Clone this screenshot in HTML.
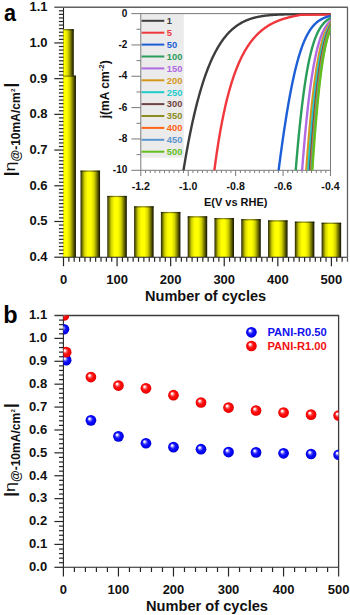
<!DOCTYPE html>
<html><head><meta charset="utf-8"><style>
html,body{margin:0;padding:0;background:#fff;width:350px;height:615px;overflow:hidden}
svg{display:block}
text{font-family:"Liberation Sans", sans-serif;font-weight:bold;fill:#111}
.t12{font-size:13px}
.t14{font-size:14px}
.t10{font-size:10px}
.t105{font-size:10.6px}
.t11{font-size:11px}
.t115{font-size:12px}
.t9{font-size:9.3px}
.t95{font-size:11px}
.lab{font-size:23.5px;fill:#000}
.yl{fill:#111}
</style></head><body>
<svg width="350" height="615" viewBox="0 0 350 615">
<defs>
<linearGradient id="bar" x1="0" x2="1" y1="0" y2="0">
<stop offset="0" stop-color="#1a1a00"/>
<stop offset="0.06" stop-color="#5c5c00"/>
<stop offset="0.2" stop-color="#d2d200"/>
<stop offset="0.36" stop-color="#ffff00"/>
<stop offset="0.54" stop-color="#ffff00"/>
<stop offset="0.7" stop-color="#d4d400"/>
<stop offset="0.84" stop-color="#7a7a00"/>
<stop offset="0.95" stop-color="#2e2e00"/>
<stop offset="1" stop-color="#141400"/>
</linearGradient>
<linearGradient id="rim" x1="0" x2="1" y1="0" y2="0">
<stop offset="0" stop-color="#0a0a00"/>
<stop offset="0.15" stop-color="#4a4a00"/>
<stop offset="0.45" stop-color="#8c8c10"/>
<stop offset="0.75" stop-color="#4a4a00"/>
<stop offset="1" stop-color="#0a0a00"/>
</linearGradient>
<radialGradient id="sb" cx="0.5" cy="0.5" r="0.5" fx="0.34" fy="0.32">
<stop offset="0" stop-color="#ffffff"/>
<stop offset="0.14" stop-color="#f0f0ff"/>
<stop offset="0.34" stop-color="#6060ff"/>
<stop offset="0.54" stop-color="#1010ff"/>
<stop offset="0.88" stop-color="#0000ea"/>
<stop offset="1" stop-color="#0000c0"/>
</radialGradient>
<radialGradient id="sr" cx="0.5" cy="0.5" r="0.5" fx="0.34" fy="0.32">
<stop offset="0" stop-color="#ffffff"/>
<stop offset="0.14" stop-color="#fff0f0"/>
<stop offset="0.34" stop-color="#ff6060"/>
<stop offset="0.54" stop-color="#ff1010"/>
<stop offset="0.88" stop-color="#f40000"/>
<stop offset="1" stop-color="#d00000"/>
</radialGradient>
<clipPath id="ca"><rect x="63.2" y="7.229999999999961" width="283.97400000000005" height="249.97000000000003"/></clipPath>
<clipPath id="cb"><rect x="63.4" y="315.50999999999993" width="275.2" height="251.79000000000002"/></clipPath>
</defs>
<line x1="63.50" y1="7.23" x2="63.50" y2="257.20" stroke="#222" stroke-width="1.1"/>
<g clip-path="url(#ca)">
<rect x="54.29" y="29.37" width="19.5" height="227.83" fill="url(#bar)"/>
<rect x="54.29" y="29.07" width="19.5" height="1.3" fill="url(#rim)" opacity="0.85"/>
<rect x="56.43" y="75.79" width="19.5" height="181.41" fill="url(#bar)"/>
<rect x="56.43" y="75.49" width="19.5" height="1.3" fill="url(#rim)" opacity="0.85"/>
<rect x="80.54" y="170.78" width="19.5" height="86.42" fill="url(#bar)"/>
<rect x="80.54" y="170.48" width="19.5" height="1.3" fill="url(#rim)" opacity="0.85"/>
<rect x="107.33" y="196.14" width="19.5" height="61.06" fill="url(#bar)"/>
<rect x="107.33" y="195.84" width="19.5" height="1.3" fill="url(#rim)" opacity="0.85"/>
<rect x="134.12" y="206.49" width="19.5" height="50.71" fill="url(#bar)"/>
<rect x="134.12" y="206.19" width="19.5" height="1.3" fill="url(#rim)" opacity="0.85"/>
<rect x="160.91" y="212.21" width="19.5" height="44.99" fill="url(#bar)"/>
<rect x="160.91" y="211.91" width="19.5" height="1.3" fill="url(#rim)" opacity="0.85"/>
<rect x="187.70" y="216.49" width="19.5" height="40.71" fill="url(#bar)"/>
<rect x="187.70" y="216.19" width="19.5" height="1.3" fill="url(#rim)" opacity="0.85"/>
<rect x="214.49" y="218.28" width="19.5" height="38.92" fill="url(#bar)"/>
<rect x="214.49" y="217.98" width="19.5" height="1.3" fill="url(#rim)" opacity="0.85"/>
<rect x="241.28" y="219.35" width="19.5" height="37.85" fill="url(#bar)"/>
<rect x="241.28" y="219.05" width="19.5" height="1.3" fill="url(#rim)" opacity="0.85"/>
<rect x="268.07" y="220.56" width="19.5" height="36.64" fill="url(#bar)"/>
<rect x="268.07" y="220.26" width="19.5" height="1.3" fill="url(#rim)" opacity="0.85"/>
<rect x="294.86" y="221.85" width="19.5" height="35.35" fill="url(#bar)"/>
<rect x="294.86" y="221.55" width="19.5" height="1.3" fill="url(#rim)" opacity="0.85"/>
<rect x="321.65" y="222.92" width="19.5" height="34.28" fill="url(#bar)"/>
<rect x="321.65" y="222.62" width="19.5" height="1.3" fill="url(#rim)" opacity="0.85"/>
</g>
<line x1="63.50" y1="257.20" x2="347.47" y2="257.20" stroke="#222" stroke-width="1.1"/>
<line x1="54.30" y1="257.20" x2="63.50" y2="257.20" stroke="#262626" stroke-width="1.2"/>
<line x1="58.90" y1="253.63" x2="63.50" y2="253.63" stroke="#262626" stroke-width="1.2"/>
<line x1="58.90" y1="250.06" x2="63.50" y2="250.06" stroke="#262626" stroke-width="1.2"/>
<line x1="58.90" y1="246.49" x2="63.50" y2="246.49" stroke="#262626" stroke-width="1.2"/>
<line x1="58.90" y1="242.92" x2="63.50" y2="242.92" stroke="#262626" stroke-width="1.2"/>
<line x1="58.90" y1="239.34" x2="63.50" y2="239.34" stroke="#262626" stroke-width="1.2"/>
<line x1="58.90" y1="235.77" x2="63.50" y2="235.77" stroke="#262626" stroke-width="1.2"/>
<line x1="58.90" y1="232.20" x2="63.50" y2="232.20" stroke="#262626" stroke-width="1.2"/>
<line x1="58.90" y1="228.63" x2="63.50" y2="228.63" stroke="#262626" stroke-width="1.2"/>
<line x1="58.90" y1="225.06" x2="63.50" y2="225.06" stroke="#262626" stroke-width="1.2"/>
<line x1="54.30" y1="221.49" x2="63.50" y2="221.49" stroke="#262626" stroke-width="1.2"/>
<line x1="58.90" y1="217.92" x2="63.50" y2="217.92" stroke="#262626" stroke-width="1.2"/>
<line x1="58.90" y1="214.35" x2="63.50" y2="214.35" stroke="#262626" stroke-width="1.2"/>
<line x1="58.90" y1="210.78" x2="63.50" y2="210.78" stroke="#262626" stroke-width="1.2"/>
<line x1="58.90" y1="207.21" x2="63.50" y2="207.21" stroke="#262626" stroke-width="1.2"/>
<line x1="58.90" y1="203.63" x2="63.50" y2="203.63" stroke="#262626" stroke-width="1.2"/>
<line x1="58.90" y1="200.06" x2="63.50" y2="200.06" stroke="#262626" stroke-width="1.2"/>
<line x1="58.90" y1="196.49" x2="63.50" y2="196.49" stroke="#262626" stroke-width="1.2"/>
<line x1="58.90" y1="192.92" x2="63.50" y2="192.92" stroke="#262626" stroke-width="1.2"/>
<line x1="58.90" y1="189.35" x2="63.50" y2="189.35" stroke="#262626" stroke-width="1.2"/>
<line x1="54.30" y1="185.78" x2="63.50" y2="185.78" stroke="#262626" stroke-width="1.2"/>
<line x1="58.90" y1="182.21" x2="63.50" y2="182.21" stroke="#262626" stroke-width="1.2"/>
<line x1="58.90" y1="178.64" x2="63.50" y2="178.64" stroke="#262626" stroke-width="1.2"/>
<line x1="58.90" y1="175.07" x2="63.50" y2="175.07" stroke="#262626" stroke-width="1.2"/>
<line x1="58.90" y1="171.50" x2="63.50" y2="171.50" stroke="#262626" stroke-width="1.2"/>
<line x1="58.90" y1="167.92" x2="63.50" y2="167.92" stroke="#262626" stroke-width="1.2"/>
<line x1="58.90" y1="164.35" x2="63.50" y2="164.35" stroke="#262626" stroke-width="1.2"/>
<line x1="58.90" y1="160.78" x2="63.50" y2="160.78" stroke="#262626" stroke-width="1.2"/>
<line x1="58.90" y1="157.21" x2="63.50" y2="157.21" stroke="#262626" stroke-width="1.2"/>
<line x1="58.90" y1="153.64" x2="63.50" y2="153.64" stroke="#262626" stroke-width="1.2"/>
<line x1="54.30" y1="150.07" x2="63.50" y2="150.07" stroke="#262626" stroke-width="1.2"/>
<line x1="58.90" y1="146.50" x2="63.50" y2="146.50" stroke="#262626" stroke-width="1.2"/>
<line x1="58.90" y1="142.93" x2="63.50" y2="142.93" stroke="#262626" stroke-width="1.2"/>
<line x1="58.90" y1="139.36" x2="63.50" y2="139.36" stroke="#262626" stroke-width="1.2"/>
<line x1="58.90" y1="135.79" x2="63.50" y2="135.79" stroke="#262626" stroke-width="1.2"/>
<line x1="58.90" y1="132.21" x2="63.50" y2="132.21" stroke="#262626" stroke-width="1.2"/>
<line x1="58.90" y1="128.64" x2="63.50" y2="128.64" stroke="#262626" stroke-width="1.2"/>
<line x1="58.90" y1="125.07" x2="63.50" y2="125.07" stroke="#262626" stroke-width="1.2"/>
<line x1="58.90" y1="121.50" x2="63.50" y2="121.50" stroke="#262626" stroke-width="1.2"/>
<line x1="58.90" y1="117.93" x2="63.50" y2="117.93" stroke="#262626" stroke-width="1.2"/>
<line x1="54.30" y1="114.36" x2="63.50" y2="114.36" stroke="#262626" stroke-width="1.2"/>
<line x1="58.90" y1="110.79" x2="63.50" y2="110.79" stroke="#262626" stroke-width="1.2"/>
<line x1="58.90" y1="107.22" x2="63.50" y2="107.22" stroke="#262626" stroke-width="1.2"/>
<line x1="58.90" y1="103.65" x2="63.50" y2="103.65" stroke="#262626" stroke-width="1.2"/>
<line x1="58.90" y1="100.08" x2="63.50" y2="100.08" stroke="#262626" stroke-width="1.2"/>
<line x1="58.90" y1="96.50" x2="63.50" y2="96.50" stroke="#262626" stroke-width="1.2"/>
<line x1="58.90" y1="92.93" x2="63.50" y2="92.93" stroke="#262626" stroke-width="1.2"/>
<line x1="58.90" y1="89.36" x2="63.50" y2="89.36" stroke="#262626" stroke-width="1.2"/>
<line x1="58.90" y1="85.79" x2="63.50" y2="85.79" stroke="#262626" stroke-width="1.2"/>
<line x1="58.90" y1="82.22" x2="63.50" y2="82.22" stroke="#262626" stroke-width="1.2"/>
<line x1="54.30" y1="78.65" x2="63.50" y2="78.65" stroke="#262626" stroke-width="1.2"/>
<line x1="58.90" y1="75.08" x2="63.50" y2="75.08" stroke="#262626" stroke-width="1.2"/>
<line x1="58.90" y1="71.51" x2="63.50" y2="71.51" stroke="#262626" stroke-width="1.2"/>
<line x1="58.90" y1="67.94" x2="63.50" y2="67.94" stroke="#262626" stroke-width="1.2"/>
<line x1="58.90" y1="64.37" x2="63.50" y2="64.37" stroke="#262626" stroke-width="1.2"/>
<line x1="58.90" y1="60.79" x2="63.50" y2="60.79" stroke="#262626" stroke-width="1.2"/>
<line x1="58.90" y1="57.22" x2="63.50" y2="57.22" stroke="#262626" stroke-width="1.2"/>
<line x1="58.90" y1="53.65" x2="63.50" y2="53.65" stroke="#262626" stroke-width="1.2"/>
<line x1="58.90" y1="50.08" x2="63.50" y2="50.08" stroke="#262626" stroke-width="1.2"/>
<line x1="58.90" y1="46.51" x2="63.50" y2="46.51" stroke="#262626" stroke-width="1.2"/>
<line x1="54.30" y1="42.94" x2="63.50" y2="42.94" stroke="#262626" stroke-width="1.2"/>
<line x1="58.90" y1="39.37" x2="63.50" y2="39.37" stroke="#262626" stroke-width="1.2"/>
<line x1="58.90" y1="35.80" x2="63.50" y2="35.80" stroke="#262626" stroke-width="1.2"/>
<line x1="58.90" y1="32.23" x2="63.50" y2="32.23" stroke="#262626" stroke-width="1.2"/>
<line x1="58.90" y1="28.66" x2="63.50" y2="28.66" stroke="#262626" stroke-width="1.2"/>
<line x1="58.90" y1="25.08" x2="63.50" y2="25.08" stroke="#262626" stroke-width="1.2"/>
<line x1="58.90" y1="21.51" x2="63.50" y2="21.51" stroke="#262626" stroke-width="1.2"/>
<line x1="58.90" y1="17.94" x2="63.50" y2="17.94" stroke="#262626" stroke-width="1.2"/>
<line x1="58.90" y1="14.37" x2="63.50" y2="14.37" stroke="#262626" stroke-width="1.2"/>
<line x1="58.90" y1="10.80" x2="63.50" y2="10.80" stroke="#262626" stroke-width="1.2"/>
<line x1="63.50" y1="257.20" x2="63.50" y2="266.20" stroke="#262626" stroke-width="1.2"/>
<line x1="68.86" y1="257.20" x2="68.86" y2="261.80" stroke="#262626" stroke-width="1.2"/>
<line x1="74.22" y1="257.20" x2="74.22" y2="261.80" stroke="#262626" stroke-width="1.2"/>
<line x1="79.57" y1="257.20" x2="79.57" y2="261.80" stroke="#262626" stroke-width="1.2"/>
<line x1="84.93" y1="257.20" x2="84.93" y2="261.80" stroke="#262626" stroke-width="1.2"/>
<line x1="90.29" y1="257.20" x2="90.29" y2="261.80" stroke="#262626" stroke-width="1.2"/>
<line x1="95.65" y1="257.20" x2="95.65" y2="261.80" stroke="#262626" stroke-width="1.2"/>
<line x1="101.01" y1="257.20" x2="101.01" y2="261.80" stroke="#262626" stroke-width="1.2"/>
<line x1="106.36" y1="257.20" x2="106.36" y2="261.80" stroke="#262626" stroke-width="1.2"/>
<line x1="111.72" y1="257.20" x2="111.72" y2="261.80" stroke="#262626" stroke-width="1.2"/>
<line x1="117.08" y1="257.20" x2="117.08" y2="266.20" stroke="#262626" stroke-width="1.2"/>
<line x1="122.44" y1="257.20" x2="122.44" y2="261.80" stroke="#262626" stroke-width="1.2"/>
<line x1="127.80" y1="257.20" x2="127.80" y2="261.80" stroke="#262626" stroke-width="1.2"/>
<line x1="133.15" y1="257.20" x2="133.15" y2="261.80" stroke="#262626" stroke-width="1.2"/>
<line x1="138.51" y1="257.20" x2="138.51" y2="261.80" stroke="#262626" stroke-width="1.2"/>
<line x1="143.87" y1="257.20" x2="143.87" y2="261.80" stroke="#262626" stroke-width="1.2"/>
<line x1="149.23" y1="257.20" x2="149.23" y2="261.80" stroke="#262626" stroke-width="1.2"/>
<line x1="154.59" y1="257.20" x2="154.59" y2="261.80" stroke="#262626" stroke-width="1.2"/>
<line x1="159.94" y1="257.20" x2="159.94" y2="261.80" stroke="#262626" stroke-width="1.2"/>
<line x1="165.30" y1="257.20" x2="165.30" y2="261.80" stroke="#262626" stroke-width="1.2"/>
<line x1="170.66" y1="257.20" x2="170.66" y2="266.20" stroke="#262626" stroke-width="1.2"/>
<line x1="176.02" y1="257.20" x2="176.02" y2="261.80" stroke="#262626" stroke-width="1.2"/>
<line x1="181.38" y1="257.20" x2="181.38" y2="261.80" stroke="#262626" stroke-width="1.2"/>
<line x1="186.73" y1="257.20" x2="186.73" y2="261.80" stroke="#262626" stroke-width="1.2"/>
<line x1="192.09" y1="257.20" x2="192.09" y2="261.80" stroke="#262626" stroke-width="1.2"/>
<line x1="197.45" y1="257.20" x2="197.45" y2="261.80" stroke="#262626" stroke-width="1.2"/>
<line x1="202.81" y1="257.20" x2="202.81" y2="261.80" stroke="#262626" stroke-width="1.2"/>
<line x1="208.17" y1="257.20" x2="208.17" y2="261.80" stroke="#262626" stroke-width="1.2"/>
<line x1="213.52" y1="257.20" x2="213.52" y2="261.80" stroke="#262626" stroke-width="1.2"/>
<line x1="218.88" y1="257.20" x2="218.88" y2="261.80" stroke="#262626" stroke-width="1.2"/>
<line x1="224.24" y1="257.20" x2="224.24" y2="266.20" stroke="#262626" stroke-width="1.2"/>
<line x1="229.60" y1="257.20" x2="229.60" y2="261.80" stroke="#262626" stroke-width="1.2"/>
<line x1="234.96" y1="257.20" x2="234.96" y2="261.80" stroke="#262626" stroke-width="1.2"/>
<line x1="240.31" y1="257.20" x2="240.31" y2="261.80" stroke="#262626" stroke-width="1.2"/>
<line x1="245.67" y1="257.20" x2="245.67" y2="261.80" stroke="#262626" stroke-width="1.2"/>
<line x1="251.03" y1="257.20" x2="251.03" y2="261.80" stroke="#262626" stroke-width="1.2"/>
<line x1="256.39" y1="257.20" x2="256.39" y2="261.80" stroke="#262626" stroke-width="1.2"/>
<line x1="261.75" y1="257.20" x2="261.75" y2="261.80" stroke="#262626" stroke-width="1.2"/>
<line x1="267.10" y1="257.20" x2="267.10" y2="261.80" stroke="#262626" stroke-width="1.2"/>
<line x1="272.46" y1="257.20" x2="272.46" y2="261.80" stroke="#262626" stroke-width="1.2"/>
<line x1="277.82" y1="257.20" x2="277.82" y2="266.20" stroke="#262626" stroke-width="1.2"/>
<line x1="283.18" y1="257.20" x2="283.18" y2="261.80" stroke="#262626" stroke-width="1.2"/>
<line x1="288.54" y1="257.20" x2="288.54" y2="261.80" stroke="#262626" stroke-width="1.2"/>
<line x1="293.89" y1="257.20" x2="293.89" y2="261.80" stroke="#262626" stroke-width="1.2"/>
<line x1="299.25" y1="257.20" x2="299.25" y2="261.80" stroke="#262626" stroke-width="1.2"/>
<line x1="304.61" y1="257.20" x2="304.61" y2="261.80" stroke="#262626" stroke-width="1.2"/>
<line x1="309.97" y1="257.20" x2="309.97" y2="261.80" stroke="#262626" stroke-width="1.2"/>
<line x1="315.33" y1="257.20" x2="315.33" y2="261.80" stroke="#262626" stroke-width="1.2"/>
<line x1="320.68" y1="257.20" x2="320.68" y2="261.80" stroke="#262626" stroke-width="1.2"/>
<line x1="326.04" y1="257.20" x2="326.04" y2="261.80" stroke="#262626" stroke-width="1.2"/>
<line x1="331.40" y1="257.20" x2="331.40" y2="266.20" stroke="#262626" stroke-width="1.2"/>
<line x1="336.76" y1="257.20" x2="336.76" y2="261.80" stroke="#262626" stroke-width="1.2"/>
<line x1="342.12" y1="257.20" x2="342.12" y2="261.80" stroke="#262626" stroke-width="1.2"/>
<line x1="54.30" y1="7.23" x2="347.97" y2="7.23" stroke="#606060" stroke-width="1.3"/>
<line x1="347.47" y1="7.23" x2="347.47" y2="261.80" stroke="#606060" stroke-width="1.3"/>
<text x="47.6" y="261.20" text-anchor="end" class="t12">0.4</text>
<text x="47.6" y="225.49" text-anchor="end" class="t12">0.5</text>
<text x="47.6" y="189.78" text-anchor="end" class="t12">0.6</text>
<text x="47.6" y="154.07" text-anchor="end" class="t12">0.7</text>
<text x="47.6" y="118.36" text-anchor="end" class="t12">0.8</text>
<text x="47.6" y="82.65" text-anchor="end" class="t12">0.9</text>
<text x="47.6" y="46.94" text-anchor="end" class="t12">1.0</text>
<text x="47.6" y="11.23" text-anchor="end" class="t12">1.1</text>
<text x="63.50" y="284.2" text-anchor="middle" class="t12">0</text>
<text x="117.08" y="284.2" text-anchor="middle" class="t12">100</text>
<text x="170.66" y="284.2" text-anchor="middle" class="t12">200</text>
<text x="224.24" y="284.2" text-anchor="middle" class="t12">300</text>
<text x="277.82" y="284.2" text-anchor="middle" class="t12">400</text>
<text x="331.40" y="284.2" text-anchor="middle" class="t12">500</text>
<text x="205.6" y="301.0" text-anchor="middle" class="t14" textLength="121" lengthAdjust="spacingAndGlyphs">Number of cycles</text>
<text transform="translate(15.7,176.30) rotate(-90)" font-size="17" class="yl" style="font-weight:bold">|</text>
<text transform="translate(15.4,171.50) rotate(-90) scale(1.24,1)" font-size="14.5" class="yl" style="font-weight:normal">η</text>
<text transform="translate(19.6,161.50) rotate(-90)" font-size="12" class="yl" style="font-weight:bold">@-10mA/cm</text>
<text transform="translate(15.2,92.00) rotate(-90)" font-size="6.2" class="yl" style="font-weight:bold">2</text>
<text transform="translate(15.7,87.50) rotate(-90)" font-size="17" class="yl" style="font-weight:bold">|</text>
<text transform="translate(3.9,21) scale(0.92,1)" x="0" y="0" class="lab">a</text>
<rect x="141.3" y="14.1" width="42.50" height="143.60" fill="#ebebeb"/>
<line x1="141.5" y1="20.80" x2="164.3" y2="20.80" stroke="#3d3d3d" stroke-width="2"/>
<text x="166.8" y="24.15" class="t9" style="fill:#3d3d3d">1</text>
<line x1="141.5" y1="32.70" x2="164.3" y2="32.70" stroke="#f0373c" stroke-width="2"/>
<text x="166.8" y="36.05" class="t9" style="fill:#f0373c">5</text>
<line x1="141.5" y1="44.60" x2="164.3" y2="44.60" stroke="#1d5fd6" stroke-width="2"/>
<text x="166.8" y="47.95" class="t9" style="fill:#1d5fd6">50</text>
<line x1="141.5" y1="56.50" x2="164.3" y2="56.50" stroke="#2b9d5b" stroke-width="2"/>
<text x="166.8" y="59.85" class="t9" style="fill:#2b9d5b">100</text>
<line x1="141.5" y1="68.40" x2="164.3" y2="68.40" stroke="#b06ae2" stroke-width="2"/>
<text x="166.8" y="71.75" class="t9" style="fill:#b06ae2">150</text>
<line x1="141.5" y1="80.30" x2="164.3" y2="80.30" stroke="#d4971b" stroke-width="2"/>
<text x="166.8" y="83.65" class="t9" style="fill:#d4971b">200</text>
<line x1="141.5" y1="92.20" x2="164.3" y2="92.20" stroke="#1fcccc" stroke-width="2"/>
<text x="166.8" y="95.55" class="t9" style="fill:#1fcccc">250</text>
<line x1="141.5" y1="104.10" x2="164.3" y2="104.10" stroke="#6f4343" stroke-width="2"/>
<text x="166.8" y="107.45" class="t9" style="fill:#6f4343">300</text>
<line x1="141.5" y1="116.00" x2="164.3" y2="116.00" stroke="#8d8c1e" stroke-width="2"/>
<text x="166.8" y="119.35" class="t9" style="fill:#8d8c1e">350</text>
<line x1="141.5" y1="127.90" x2="164.3" y2="127.90" stroke="#ff6415" stroke-width="2"/>
<text x="166.8" y="131.25" class="t9" style="fill:#ff6415">400</text>
<line x1="141.5" y1="139.80" x2="164.3" y2="139.80" stroke="#5b95cf" stroke-width="2"/>
<text x="166.8" y="143.15" class="t9" style="fill:#5b95cf">450</text>
<line x1="141.5" y1="151.70" x2="164.3" y2="151.70" stroke="#62bf1c" stroke-width="2"/>
<text x="166.8" y="155.05" class="t9" style="fill:#62bf1c">500</text>
<rect x="140.8" y="13.6" width="189.70" height="156.70" fill="none" stroke="#7a7a7a" stroke-width="1"/>
<line x1="131.40" y1="13.60" x2="140.80" y2="13.60" stroke="#7a7a7a" stroke-width="1"/>
<line x1="136.50" y1="29.27" x2="140.80" y2="29.27" stroke="#7a7a7a" stroke-width="1"/>
<line x1="131.40" y1="44.94" x2="140.80" y2="44.94" stroke="#7a7a7a" stroke-width="1"/>
<line x1="136.50" y1="60.61" x2="140.80" y2="60.61" stroke="#7a7a7a" stroke-width="1"/>
<line x1="131.40" y1="76.28" x2="140.80" y2="76.28" stroke="#7a7a7a" stroke-width="1"/>
<line x1="136.50" y1="91.95" x2="140.80" y2="91.95" stroke="#7a7a7a" stroke-width="1"/>
<line x1="131.40" y1="107.62" x2="140.80" y2="107.62" stroke="#7a7a7a" stroke-width="1"/>
<line x1="136.50" y1="123.29" x2="140.80" y2="123.29" stroke="#7a7a7a" stroke-width="1"/>
<line x1="131.40" y1="138.96" x2="140.80" y2="138.96" stroke="#7a7a7a" stroke-width="1"/>
<line x1="136.50" y1="154.63" x2="140.80" y2="154.63" stroke="#7a7a7a" stroke-width="1"/>
<line x1="131.40" y1="170.30" x2="140.80" y2="170.30" stroke="#7a7a7a" stroke-width="1"/>
<line x1="140.80" y1="170.30" x2="140.80" y2="176.00" stroke="#7a7a7a" stroke-width="1"/>
<line x1="145.54" y1="170.30" x2="145.54" y2="173.00" stroke="#7a7a7a" stroke-width="1"/>
<line x1="150.29" y1="170.30" x2="150.29" y2="173.00" stroke="#7a7a7a" stroke-width="1"/>
<line x1="155.03" y1="170.30" x2="155.03" y2="173.00" stroke="#7a7a7a" stroke-width="1"/>
<line x1="159.77" y1="170.30" x2="159.77" y2="173.00" stroke="#7a7a7a" stroke-width="1"/>
<line x1="164.51" y1="170.30" x2="164.51" y2="173.00" stroke="#7a7a7a" stroke-width="1"/>
<line x1="169.25" y1="170.30" x2="169.25" y2="173.00" stroke="#7a7a7a" stroke-width="1"/>
<line x1="174.00" y1="170.30" x2="174.00" y2="173.00" stroke="#7a7a7a" stroke-width="1"/>
<line x1="178.74" y1="170.30" x2="178.74" y2="173.00" stroke="#7a7a7a" stroke-width="1"/>
<line x1="183.48" y1="170.30" x2="183.48" y2="173.00" stroke="#7a7a7a" stroke-width="1"/>
<line x1="188.22" y1="170.30" x2="188.22" y2="176.00" stroke="#7a7a7a" stroke-width="1"/>
<line x1="192.97" y1="170.30" x2="192.97" y2="173.00" stroke="#7a7a7a" stroke-width="1"/>
<line x1="197.71" y1="170.30" x2="197.71" y2="173.00" stroke="#7a7a7a" stroke-width="1"/>
<line x1="202.45" y1="170.30" x2="202.45" y2="173.00" stroke="#7a7a7a" stroke-width="1"/>
<line x1="207.19" y1="170.30" x2="207.19" y2="173.00" stroke="#7a7a7a" stroke-width="1"/>
<line x1="211.94" y1="170.30" x2="211.94" y2="173.00" stroke="#7a7a7a" stroke-width="1"/>
<line x1="216.68" y1="170.30" x2="216.68" y2="173.00" stroke="#7a7a7a" stroke-width="1"/>
<line x1="221.42" y1="170.30" x2="221.42" y2="173.00" stroke="#7a7a7a" stroke-width="1"/>
<line x1="226.16" y1="170.30" x2="226.16" y2="173.00" stroke="#7a7a7a" stroke-width="1"/>
<line x1="230.91" y1="170.30" x2="230.91" y2="173.00" stroke="#7a7a7a" stroke-width="1"/>
<line x1="235.65" y1="170.30" x2="235.65" y2="176.00" stroke="#7a7a7a" stroke-width="1"/>
<line x1="240.39" y1="170.30" x2="240.39" y2="173.00" stroke="#7a7a7a" stroke-width="1"/>
<line x1="245.13" y1="170.30" x2="245.13" y2="173.00" stroke="#7a7a7a" stroke-width="1"/>
<line x1="249.88" y1="170.30" x2="249.88" y2="173.00" stroke="#7a7a7a" stroke-width="1"/>
<line x1="254.62" y1="170.30" x2="254.62" y2="173.00" stroke="#7a7a7a" stroke-width="1"/>
<line x1="259.36" y1="170.30" x2="259.36" y2="173.00" stroke="#7a7a7a" stroke-width="1"/>
<line x1="264.11" y1="170.30" x2="264.11" y2="173.00" stroke="#7a7a7a" stroke-width="1"/>
<line x1="268.85" y1="170.30" x2="268.85" y2="173.00" stroke="#7a7a7a" stroke-width="1"/>
<line x1="273.59" y1="170.30" x2="273.59" y2="173.00" stroke="#7a7a7a" stroke-width="1"/>
<line x1="278.33" y1="170.30" x2="278.33" y2="173.00" stroke="#7a7a7a" stroke-width="1"/>
<line x1="283.07" y1="170.30" x2="283.07" y2="176.00" stroke="#7a7a7a" stroke-width="1"/>
<line x1="287.82" y1="170.30" x2="287.82" y2="173.00" stroke="#7a7a7a" stroke-width="1"/>
<line x1="292.56" y1="170.30" x2="292.56" y2="173.00" stroke="#7a7a7a" stroke-width="1"/>
<line x1="297.30" y1="170.30" x2="297.30" y2="173.00" stroke="#7a7a7a" stroke-width="1"/>
<line x1="302.05" y1="170.30" x2="302.05" y2="173.00" stroke="#7a7a7a" stroke-width="1"/>
<line x1="306.79" y1="170.30" x2="306.79" y2="173.00" stroke="#7a7a7a" stroke-width="1"/>
<line x1="311.53" y1="170.30" x2="311.53" y2="173.00" stroke="#7a7a7a" stroke-width="1"/>
<line x1="316.27" y1="170.30" x2="316.27" y2="173.00" stroke="#7a7a7a" stroke-width="1"/>
<line x1="321.01" y1="170.30" x2="321.01" y2="173.00" stroke="#7a7a7a" stroke-width="1"/>
<line x1="325.76" y1="170.30" x2="325.76" y2="173.00" stroke="#7a7a7a" stroke-width="1"/>
<line x1="330.50" y1="170.30" x2="330.50" y2="176.00" stroke="#7a7a7a" stroke-width="1"/>
<text x="127.3" y="16.60" text-anchor="end" class="t10">0</text>
<text x="127.3" y="47.94" text-anchor="end" class="t10">-2</text>
<text x="127.3" y="79.28" text-anchor="end" class="t10">-4</text>
<text x="127.3" y="110.62" text-anchor="end" class="t10">-6</text>
<text x="127.3" y="141.96" text-anchor="end" class="t10">-8</text>
<text x="127.3" y="173.30" text-anchor="end" class="t10">-10</text>
<text x="140.80" y="190.0" text-anchor="middle" class="t105">-1.2</text>
<text x="188.22" y="190.0" text-anchor="middle" class="t105">-1.0</text>
<text x="235.65" y="190.0" text-anchor="middle" class="t105">-0.8</text>
<text x="283.08" y="190.0" text-anchor="middle" class="t105">-0.6</text>
<text x="330.50" y="190.0" text-anchor="middle" class="t105">-0.4</text>
<clipPath id="ci"><rect x="140.8" y="11.6" width="189.7" height="158.70000000000002"/></clipPath>
<g clip-path="url(#ci)" fill="none" stroke-width="2.4" stroke-linejoin="round">
<path d="M181.92,180.25 L182.61,175.79 L183.30,171.44 L183.99,167.21 L184.67,163.10 L185.35,159.10 L186.03,155.20 L186.70,151.41 L187.38,147.72 L188.04,144.13 L188.71,140.64 L189.37,137.24 L190.03,133.93 L190.69,130.71 L191.34,127.58 L191.99,124.53 L192.64,121.56 L193.29,118.68 L193.93,115.87 L194.57,113.13 L195.20,110.47 L195.84,107.88 L196.47,105.37 L197.09,102.91 L197.72,100.53 L198.34,98.21 L198.96,95.95 L199.58,93.75 L200.19,91.61 L200.80,89.53 L201.41,87.50 L202.02,85.53 L202.62,83.61 L203.22,81.75 L203.82,79.93 L204.41,78.16 L205.00,76.44 L205.59,74.77 L206.18,73.14 L206.76,71.55 L207.34,70.01 L207.92,68.51 L208.50,67.05 L209.07,65.62 L209.64,64.24 L210.21,62.89 L210.77,61.58 L211.34,60.31 L211.90,59.07 L212.45,57.86 L213.01,56.69 L213.56,55.54 L214.11,54.43 L214.66,53.35 L215.21,52.30 L215.75,51.27 L216.29,50.27 L216.83,49.30 L217.36,48.36 L217.90,47.44 L218.43,46.54 L218.95,45.67 L219.48,44.82 L220.00,44.00 L220.52,43.20 L221.04,42.42 L221.56,41.66 L222.07,40.92 L222.58,40.20 L223.09,39.50 L223.60,38.82 L224.10,38.15 L224.61,37.51 L225.11,36.88 L225.60,36.27 L226.10,35.68 L226.59,35.10 L227.08,34.53 L227.57,33.99 L228.06,33.45 L228.54,32.93 L229.03,32.43 L229.51,31.94 L229.99,31.46 L230.46,30.99 L230.93,30.54 L231.41,30.10 L231.88,29.67 L232.34,29.26 L232.81,28.85 L233.27,28.45 L233.73,28.07 L234.19,27.70 L234.65,27.33 L235.10,26.98 L235.56,26.63 L236.01,26.30 L236.46,25.97 L236.90,25.65 L237.35,25.34 L237.79,25.04 L238.23,24.75 L238.67,24.46 L239.11,24.19 L239.54,23.92 L239.98,23.66 L240.41,23.40 L240.84,23.15 L241.26,22.91 L241.69,22.67 L242.11,22.44 L242.54,22.22 L242.96,22.00 L243.37,21.79 L243.79,21.59 L244.21,21.39 L244.62,21.19 L245.03,21.00 L245.44,20.82 L245.85,20.64 L246.25,20.47 L246.66,20.30 L247.06,20.13 L247.46,19.97 L247.86,19.81 L248.26,19.66 L248.65,19.51 L249.05,19.37 L249.44,19.23 L249.83,19.09 L250.22,18.96 L250.61,18.83 L250.99,18.70 L251.38,18.58 L251.76,18.46 L252.14,18.35 L252.52,18.23 L252.90,18.12 L253.27,18.02 L253.65,17.91 L254.02,17.81 L254.39,17.71 L254.76,17.62 L255.13,17.52 L255.50,17.43 L255.87,17.35 L256.23,17.26 L256.59,17.18 L256.96,17.09 L257.32,17.02 L257.68,16.94 L258.03,16.86 L258.39,16.79 L258.74,16.72 L259.10,16.65 L259.45,16.58 L259.80,16.52 L260.15,16.45 L260.50,16.39 L260.84,16.33 L261.19,16.27 L261.53,16.22 L261.88,16.16 L262.22,16.11 L262.56,16.05 L262.90,16.00 L263.24,15.95 L263.57,15.90 L263.91,15.86 L264.24,15.81 L264.58,15.77 L264.91,15.72 L265.24,15.68 L265.57,15.64 L265.90,15.60 L266.22,15.56 L266.55,15.52 L266.88,15.49 L267.20,15.45 L267.52,15.41 L267.85,15.38 L268.17,15.35 L268.49,15.32 L268.81,15.28 L269.12,15.25 L269.44,15.22 L269.76,15.19 L270.07,15.17 L270.39,15.14 L270.70,15.11 L271.01,15.09 L271.32,15.06 L271.63,15.04 L271.94,15.01 L272.25,14.99 L272.56,14.97 L272.86,14.95 L273.17,14.92 L273.47,14.90 L273.78,14.88 L274.08,14.86 L274.38,14.84 L274.69,14.83 L274.99,14.81 L275.29,14.79 L275.59,14.77 L275.88,14.76 L276.18,14.74 L276.48,14.72 L276.78,14.71 L277.07,14.69 L277.37,14.68 L277.66,14.66 L277.95,14.65 L278.25,14.64 L278.54,14.62 L278.83,14.61 L279.12,14.60 L279.41,14.59 L279.70,14.57 L279.99,14.56 L280.28,14.55 L280.56,14.54 L280.85,14.53 L281.14,14.52 L281.42,14.51 L281.71,14.50 L281.99,14.49 L282.28,14.48 L282.56,14.47 L282.85,14.46 L283.13,14.46 L283.41,14.45 L283.69,14.44 L283.98,14.43 L284.26,14.42 L284.54,14.42 L284.82,14.41 L285.10,14.40 L285.38,14.40 L285.66,14.39 L285.93,14.38 L286.21,14.38 L286.49,14.37 L286.77,14.36 L287.05,14.36 L287.32,14.35 L287.60,14.35 L287.88,14.34 L288.15,14.34 L331.50,14.14" stroke="#3d3d3d"/>
<path d="M213.12,180.25 L213.56,176.65 L214.00,173.12 L214.45,169.67 L214.89,166.30 L215.34,163.00 L215.79,159.77 L216.23,156.61 L216.68,153.52 L217.13,150.49 L217.59,147.53 L218.04,144.64 L218.49,141.81 L218.94,139.04 L219.40,136.33 L219.85,133.68 L220.31,131.09 L220.77,128.55 L221.23,126.07 L221.68,123.64 L222.14,121.26 L222.60,118.94 L223.06,116.66 L223.52,114.44 L223.99,112.26 L224.45,110.14 L224.91,108.05 L225.37,106.02 L225.84,104.02 L226.30,102.07 L226.77,100.16 L227.23,98.30 L227.70,96.47 L228.16,94.69 L228.63,92.94 L229.10,91.23 L229.56,89.56 L230.03,87.92 L230.50,86.32 L230.97,84.75 L231.44,83.22 L231.90,81.72 L232.37,80.26 L232.84,78.82 L233.31,77.42 L233.78,76.05 L234.25,74.70 L234.72,73.39 L235.19,72.11 L235.66,70.85 L236.13,69.62 L236.60,68.41 L237.07,67.24 L237.53,66.08 L238.00,64.96 L238.47,63.86 L238.94,62.78 L239.41,61.72 L239.88,60.69 L240.35,59.68 L240.82,58.69 L241.28,57.73 L241.75,56.78 L242.22,55.86 L242.69,54.95 L243.15,54.07 L243.62,53.20 L244.09,52.35 L244.55,51.52 L245.02,50.71 L245.48,49.92 L245.95,49.14 L246.41,48.38 L246.88,47.64 L247.34,46.91 L247.80,46.20 L248.26,45.51 L248.73,44.83 L249.19,44.16 L249.65,43.51 L250.11,42.87 L250.56,42.25 L251.02,41.64 L251.48,41.04 L251.94,40.46 L252.39,39.89 L252.85,39.33 L253.30,38.78 L253.76,38.25 L254.21,37.73 L254.66,37.22 L255.11,36.72 L255.56,36.23 L256.01,35.75 L256.46,35.28 L256.90,34.82 L257.35,34.37 L257.80,33.93 L258.24,33.50 L258.68,33.08 L259.12,32.67 L259.56,32.27 L260.00,31.88 L260.44,31.49 L260.88,31.12 L261.32,30.75 L261.75,30.39 L262.18,30.04 L262.62,29.69 L263.05,29.35 L263.48,29.02 L263.90,28.70 L264.33,28.39 L264.76,28.08 L265.18,27.77 L265.60,27.48 L266.02,27.19 L266.44,26.91 L266.86,26.63 L267.28,26.36 L267.69,26.09 L268.11,25.83 L268.52,25.58 L268.93,25.33 L269.34,25.09 L269.74,24.85 L270.15,24.62 L270.55,24.39 L270.95,24.17 L271.35,23.95 L271.75,23.74 L272.15,23.53 L272.54,23.33 L272.94,23.13 L273.33,22.94 L273.72,22.74 L274.10,22.56 L274.49,22.38 L274.87,22.20 L275.25,22.02 L275.63,21.85 L276.01,21.68 L276.38,21.52 L276.76,21.36 L277.13,21.20 L277.50,21.05 L277.86,20.90 L278.23,20.76 L278.59,20.61 L278.95,20.47 L279.31,20.33 L279.66,20.20 L280.02,20.07 L280.37,19.94 L280.72,19.81 L281.06,19.69 L281.41,19.57 L281.75,19.45 L282.09,19.34 L282.43,19.23 L282.76,19.12 L283.09,19.01 L283.42,18.90 L283.75,18.80 L284.07,18.70 L284.40,18.60 L284.72,18.50 L285.03,18.41 L285.35,18.32 L285.66,18.23 L285.97,18.14 L286.27,18.05 L286.58,17.97 L286.88,17.88 L287.17,17.80 L287.47,17.72 L287.76,17.65 L288.05,17.57 L288.34,17.50 L288.62,17.42 L288.90,17.35 L289.18,17.28 L289.45,17.21 L289.73,17.15 L290.00,17.08 L290.26,17.02 L290.52,16.96 L290.78,16.90 L291.04,16.84 L291.30,16.78 L291.55,16.72 L291.79,16.67 L292.04,16.61 L292.28,16.56 L292.52,16.50 L292.75,16.45 L292.98,16.40 L293.21,16.35 L293.44,16.31 L293.66,16.26 L293.88,16.21 L294.09,16.17 L294.30,16.13 L294.51,16.08 L294.71,16.04 L294.92,16.00 L295.11,15.96 L295.31,15.92 L295.50,15.88 L295.69,15.84 L295.87,15.81 L296.05,15.77 L296.22,15.74 L296.40,15.70 L296.57,15.67 L296.73,15.64 L296.89,15.60 L297.05,15.57 L297.21,15.54 L297.36,15.51 L297.50,15.48 L297.65,15.45 L297.78,15.42 L297.92,15.40 L298.05,15.37 L298.18,15.34 L298.30,15.32 L298.42,15.29 L298.54,15.27 L298.65,15.24 L298.75,15.22 L298.86,15.19 L298.96,15.17 L299.05,15.15 L299.14,15.13 L299.23,15.11 L299.31,15.09 L299.39,15.07 L299.47,15.05 L299.54,15.03 L299.60,15.01 L299.66,14.99 L299.72,14.97 L299.77,14.95 L299.82,14.94 L299.87,14.92 L299.91,14.90 L299.94,14.89 L299.98,14.87 L300.00,14.85 L331.50,14.65" stroke="#f0373c"/>
<path d="M277.44,179.70 L277.64,178.10 L277.84,176.50 L278.04,174.90 L278.24,173.29 L278.44,171.69 L278.65,170.09 L278.86,168.49 L279.06,166.88 L279.27,165.28 L279.48,163.68 L279.69,162.08 L279.90,160.48 L280.11,158.87 L280.33,157.27 L280.54,155.67 L280.76,154.07 L280.98,152.46 L281.20,150.86 L281.42,149.26 L281.64,147.66 L281.86,146.06 L282.09,144.45 L282.31,142.85 L282.54,141.25 L282.77,139.65 L283.00,138.04 L283.23,136.44 L283.47,134.84 L283.70,133.24 L283.94,131.64 L284.18,130.03 L284.42,128.43 L284.66,126.83 L284.91,125.23 L285.16,123.62 L285.41,122.02 L285.66,120.42 L285.91,118.82 L286.17,117.22 L286.43,115.61 L286.69,114.01 L286.95,112.41 L287.22,110.81 L287.48,109.20 L287.76,107.60 L288.03,106.00 L288.31,104.40 L288.59,102.80 L288.87,101.19 L289.16,99.59 L289.45,97.99 L289.74,96.39 L290.04,94.78 L290.34,93.18 L290.65,91.58 L290.96,89.98 L291.27,88.38 L291.59,86.77 L291.91,85.17 L292.24,83.57 L292.58,81.97 L292.92,80.36 L293.26,78.76 L293.61,77.16 L293.97,75.56 L294.33,73.96 L294.70,72.35 L295.08,70.75 L295.47,69.15 L295.86,67.55 L296.27,65.94 L296.68,64.34 L297.10,62.74 L297.53,61.14 L297.98,59.54 L298.43,57.93 L298.90,56.33 L299.39,54.73 L299.88,53.13 L300.40,51.52 L300.93,49.92 L301.48,48.32 L302.05,46.72 L302.65,45.12 L303.27,43.51 L303.92,41.91 L304.60,40.31 L305.32,38.71 L306.08,37.11 L306.25,36.76 L306.42,36.41 L306.59,36.07 L306.77,35.72 L306.95,35.38 L307.13,35.03 L307.31,34.69 L307.50,34.34 L307.69,34.00 L307.88,33.65 L308.08,33.31 L308.27,32.96 L308.47,32.62 L308.68,32.27 L308.89,31.93 L309.10,31.58 L309.31,31.24 L309.53,30.89 L309.75,30.54 L309.98,30.20 L310.21,29.85 L310.45,29.51 L310.69,29.16 L310.93,28.82 L311.18,28.47 L311.44,28.13 L311.70,27.78 L311.97,27.44 L312.24,27.09 L312.52,26.75 L312.80,26.40 L313.10,26.06 L313.40,25.71 L313.71,25.37 L314.03,25.02 L314.35,24.68 L314.69,24.33 L315.04,23.98 L315.40,23.64 L315.77,23.29 L316.15,22.95 L316.54,22.60 L316.95,22.26 L317.38,21.91 L317.82,21.57 L318.29,21.22 L318.77,20.88 L319.27,20.53 L319.80,20.19 L320.36,19.84 L320.95,19.50 L321.57,19.15 L322.23,18.81 L322.93,18.46 L323.69,18.12 L324.50,17.77 L325.38,17.42 L326.34,17.08 L327.40,16.73 L327.66,16.65 L327.94,16.57 L328.22,16.49 L328.50,16.41 L328.80,16.33 L329.10,16.25 L329.42,16.17 L329.74,16.09 L330.07,16.01 L330.42,15.92 L330.78,15.84 L331.15,15.76 L331.53,15.68 L331.93,15.60 L332.35,15.52 L332.78,15.44 L333.23,15.36 L333.71,15.28 L334.20,15.20 L334.73,15.11 L335.28,15.03 L335.86,14.95 L336.48,14.87 L337.14,14.79 L337.84,14.71 L338.60,14.63 L339.42,14.55 L340.31,14.47 L341.29,14.39" stroke="#1d5fd6"/>
<path d="M294.95,179.70 L295.08,178.10 L295.20,176.50 L295.33,174.90 L295.46,173.29 L295.59,171.69 L295.72,170.09 L295.85,168.49 L295.99,166.88 L296.12,165.28 L296.25,163.68 L296.39,162.08 L296.53,160.48 L296.66,158.87 L296.80,157.27 L296.94,155.67 L297.08,154.07 L297.22,152.46 L297.37,150.86 L297.51,149.26 L297.66,147.66 L297.80,146.06 L297.95,144.45 L298.10,142.85 L298.25,141.25 L298.40,139.65 L298.56,138.04 L298.71,136.44 L298.87,134.84 L299.02,133.24 L299.18,131.64 L299.34,130.03 L299.51,128.43 L299.67,126.83 L299.84,125.23 L300.01,123.62 L300.18,122.02 L300.35,120.42 L300.52,118.82 L300.70,117.22 L300.87,115.61 L301.05,114.01 L301.23,112.41 L301.42,110.81 L301.61,109.20 L301.79,107.60 L301.99,106.00 L302.18,104.40 L302.38,102.80 L302.58,101.19 L302.78,99.59 L302.98,97.99 L303.19,96.39 L303.40,94.78 L303.62,93.18 L303.84,91.58 L304.06,89.98 L304.29,88.38 L304.52,86.77 L304.75,85.17 L304.99,83.57 L305.23,81.97 L305.48,80.36 L305.73,78.76 L305.99,77.16 L306.26,75.56 L306.53,73.96 L306.80,72.35 L307.08,70.75 L307.37,69.15 L307.67,67.55 L307.97,65.94 L308.28,64.34 L308.61,62.74 L308.94,61.14 L309.27,59.54 L309.63,57.93 L309.99,56.33 L310.36,54.73 L310.75,53.13 L311.15,51.52 L311.57,49.92 L312.00,48.32 L312.45,46.72 L312.92,45.12 L313.42,43.51 L313.94,41.91 L314.48,40.31 L315.06,38.71 L315.68,37.11 L315.82,36.76 L315.95,36.41 L316.10,36.07 L316.24,35.72 L316.38,35.38 L316.53,35.03 L316.68,34.69 L316.83,34.34 L316.99,34.00 L317.15,33.65 L317.31,33.31 L317.47,32.96 L317.63,32.62 L317.80,32.27 L317.97,31.93 L318.15,31.58 L318.32,31.24 L318.50,30.89 L318.69,30.54 L318.88,30.20 L319.07,29.85 L319.26,29.51 L319.46,29.16 L319.67,28.82 L319.87,28.47 L320.09,28.13 L320.30,27.78 L320.53,27.44 L320.76,27.09 L320.99,26.75 L321.23,26.40 L321.48,26.06 L321.73,25.71 L321.99,25.37 L322.26,25.02 L322.53,24.68 L322.81,24.33 L323.11,23.98 L323.41,23.64 L323.72,23.29 L324.05,22.95 L324.38,22.60 L324.73,22.26 L325.09,21.91 L325.47,21.57 L325.86,21.22 L326.27,20.88 L326.70,20.53 L327.15,20.19 L327.63,19.84 L328.13,19.50 L328.67,19.15 L329.23,18.81 L329.84,18.46 L330.48,18.12 L331.18,17.77 L331.94,17.42 L332.77,17.08 L333.68,16.73 L333.91,16.65 L334.15,16.57 L334.39,16.49 L334.64,16.41 L334.90,16.33 L335.16,16.25 L335.43,16.17 L335.71,16.09 L336.00,16.01 L336.30,15.92 L336.61,15.84 L336.93,15.76 L337.26,15.68 L337.61,15.60 L337.97,15.52 L338.35,15.44 L338.74,15.36 L339.15,15.28 L339.58,15.20 L340.03,15.11 L340.51,15.03 L341.02,14.95 L341.56,14.87 L342.13,14.79 L342.74,14.71 L343.40,14.63 L344.12,14.55 L344.89,14.47 L345.75,14.39" stroke="#2b9d5b"/>
<path d="M301.39,179.70 L301.51,178.10 L301.63,176.50 L301.75,174.90 L301.87,173.29 L301.99,171.69 L302.12,170.09 L302.24,168.49 L302.37,166.88 L302.49,165.28 L302.62,163.68 L302.75,162.08 L302.88,160.48 L303.01,158.87 L303.14,157.27 L303.27,155.67 L303.40,154.07 L303.54,152.46 L303.67,150.86 L303.81,149.26 L303.95,147.66 L304.09,146.06 L304.23,144.45 L304.37,142.85 L304.51,141.25 L304.65,139.65 L304.80,138.04 L304.94,136.44 L305.09,134.84 L305.24,133.24 L305.39,131.64 L305.54,130.03 L305.69,128.43 L305.85,126.83 L306.01,125.23 L306.16,123.62 L306.32,122.02 L306.48,120.42 L306.65,118.82 L306.81,117.22 L306.98,115.61 L307.15,114.01 L307.32,112.41 L307.49,110.81 L307.67,109.20 L307.85,107.60 L308.03,106.00 L308.21,104.40 L308.39,102.80 L308.58,101.19 L308.77,99.59 L308.96,97.99 L309.16,96.39 L309.36,94.78 L309.56,93.18 L309.76,91.58 L309.97,89.98 L310.18,88.38 L310.40,86.77 L310.62,85.17 L310.84,83.57 L311.07,81.97 L311.30,80.36 L311.54,78.76 L311.78,77.16 L312.03,75.56 L312.28,73.96 L312.54,72.35 L312.80,70.75 L313.07,69.15 L313.35,67.55 L313.63,65.94 L313.92,64.34 L314.22,62.74 L314.53,61.14 L314.84,59.54 L315.17,57.93 L315.51,56.33 L315.85,54.73 L316.21,53.13 L316.59,51.52 L316.98,49.92 L317.38,48.32 L317.80,46.72 L318.24,45.12 L318.70,43.51 L319.18,41.91 L319.69,40.31 L320.22,38.71 L320.79,37.11 L320.92,36.76 L321.05,36.41 L321.18,36.07 L321.32,35.72 L321.45,35.38 L321.59,35.03 L321.73,34.69 L321.87,34.34 L322.01,34.00 L322.16,33.65 L322.30,33.31 L322.45,32.96 L322.61,32.62 L322.76,32.27 L322.92,31.93 L323.08,31.58 L323.25,31.24 L323.41,30.89 L323.58,30.54 L323.76,30.20 L323.94,29.85 L324.12,29.51 L324.30,29.16 L324.49,28.82 L324.68,28.47 L324.88,28.13 L325.08,27.78 L325.29,27.44 L325.50,27.09 L325.71,26.75 L325.94,26.40 L326.16,26.06 L326.40,25.71 L326.64,25.37 L326.89,25.02 L327.14,24.68 L327.40,24.33 L327.67,23.98 L327.95,23.64 L328.24,23.29 L328.54,22.95 L328.85,22.60 L329.17,22.26 L329.51,21.91 L329.85,21.57 L330.22,21.22 L330.60,20.88 L331.00,20.53 L331.41,20.19 L331.85,19.84 L332.32,19.50 L332.81,19.15 L333.33,18.81 L333.89,18.46 L334.49,18.12 L335.13,17.77 L335.83,17.42 L336.60,17.08 L337.44,16.73 L337.65,16.65 L337.87,16.57 L338.09,16.49 L338.32,16.41 L338.56,16.33 L338.80,16.25 L339.05,16.17 L339.31,16.09 L339.58,16.01 L339.86,15.92 L340.14,15.84 L340.44,15.76 L340.74,15.68 L341.06,15.60 L341.40,15.52 L341.74,15.44 L342.11,15.36 L342.49,15.28 L342.88,15.20 L343.30,15.11 L343.74,15.03 L344.21,14.95 L344.71,14.87 L345.24,14.79 L345.80,14.71 L346.41,14.63 L347.07,14.55 L347.79,14.47 L348.57,14.39" stroke="#b06ae2"/>
<path d="M305.63,179.70 L305.74,178.10 L305.86,176.50 L305.97,174.90 L306.08,173.29 L306.20,171.69 L306.32,170.09 L306.43,168.49 L306.55,166.88 L306.67,165.28 L306.79,163.68 L306.91,162.08 L307.03,160.48 L307.15,158.87 L307.27,157.27 L307.39,155.67 L307.52,154.07 L307.64,152.46 L307.77,150.86 L307.90,149.26 L308.03,147.66 L308.15,146.06 L308.29,144.45 L308.42,142.85 L308.55,141.25 L308.68,139.65 L308.82,138.04 L308.95,136.44 L309.09,134.84 L309.23,133.24 L309.37,131.64 L309.51,130.03 L309.65,128.43 L309.80,126.83 L309.94,125.23 L310.09,123.62 L310.24,122.02 L310.39,120.42 L310.54,118.82 L310.69,117.22 L310.85,115.61 L311.00,114.01 L311.16,112.41 L311.32,110.81 L311.48,109.20 L311.65,107.60 L311.81,106.00 L311.98,104.40 L312.15,102.80 L312.33,101.19 L312.50,99.59 L312.68,97.99 L312.86,96.39 L313.04,94.78 L313.23,93.18 L313.42,91.58 L313.61,89.98 L313.81,88.38 L314.01,86.77 L314.21,85.17 L314.41,83.57 L314.62,81.97 L314.84,80.36 L315.06,78.76 L315.28,77.16 L315.50,75.56 L315.74,73.96 L315.97,72.35 L316.21,70.75 L316.46,69.15 L316.71,67.55 L316.97,65.94 L317.24,64.34 L317.52,62.74 L317.80,61.14 L318.09,59.54 L318.39,57.93 L318.69,56.33 L319.01,54.73 L319.34,53.13 L319.68,51.52 L320.04,49.92 L320.40,48.32 L320.79,46.72 L321.19,45.12 L321.61,43.51 L322.05,41.91 L322.51,40.31 L323.00,38.71 L323.52,37.11 L323.63,36.76 L323.75,36.41 L323.87,36.07 L323.99,35.72 L324.11,35.38 L324.24,35.03 L324.36,34.69 L324.49,34.34 L324.62,34.00 L324.75,33.65 L324.89,33.31 L325.02,32.96 L325.16,32.62 L325.30,32.27 L325.45,31.93 L325.59,31.58 L325.74,31.24 L325.90,30.89 L326.05,30.54 L326.21,30.20 L326.37,29.85 L326.53,29.51 L326.70,29.16 L326.87,28.82 L327.05,28.47 L327.22,28.13 L327.41,27.78 L327.59,27.44 L327.79,27.09 L327.98,26.75 L328.18,26.40 L328.39,26.06 L328.60,25.71 L328.82,25.37 L329.04,25.02 L329.27,24.68 L329.51,24.33 L329.76,23.98 L330.01,23.64 L330.27,23.29 L330.54,22.95 L330.82,22.60 L331.11,22.26 L331.42,21.91 L331.73,21.57 L332.06,21.22 L332.40,20.88 L332.76,20.53 L333.14,20.19 L333.54,19.84 L333.96,19.50 L334.40,19.15 L334.88,18.81 L335.38,18.46 L335.92,18.12 L336.50,17.77 L337.14,17.42 L337.83,17.08 L338.59,16.73 L338.78,16.65 L338.98,16.57 L339.18,16.49 L339.39,16.41 L339.60,16.33 L339.82,16.25 L340.05,16.17 L340.28,16.09 L340.52,16.01 L340.77,15.92 L341.03,15.84 L341.30,15.76 L341.57,15.68 L341.86,15.60 L342.16,15.52 L342.48,15.44 L342.80,15.36 L343.15,15.28 L343.51,15.20 L343.88,15.11 L344.28,15.03 L344.71,14.95 L345.15,14.87 L345.63,14.79 L346.14,14.71 L346.69,14.63 L347.29,14.55 L347.93,14.47 L348.64,14.39" stroke="#d4971b"/>
<path d="M307.65,179.70 L307.76,178.10 L307.87,176.50 L307.98,174.90 L308.09,173.29 L308.20,171.69 L308.31,170.09 L308.43,168.49 L308.54,166.88 L308.66,165.28 L308.77,163.68 L308.89,162.08 L309.01,160.48 L309.13,158.87 L309.25,157.27 L309.37,155.67 L309.49,154.07 L309.61,152.46 L309.73,150.86 L309.86,149.26 L309.98,147.66 L310.11,146.06 L310.23,144.45 L310.36,142.85 L310.49,141.25 L310.62,139.65 L310.75,138.04 L310.88,136.44 L311.02,134.84 L311.15,133.24 L311.29,131.64 L311.43,130.03 L311.56,128.43 L311.70,126.83 L311.85,125.23 L311.99,123.62 L312.13,122.02 L312.28,120.42 L312.43,118.82 L312.57,117.22 L312.73,115.61 L312.88,114.01 L313.03,112.41 L313.19,110.81 L313.34,109.20 L313.50,107.60 L313.67,106.00 L313.83,104.40 L314.00,102.80 L314.16,101.19 L314.33,99.59 L314.51,97.99 L314.68,96.39 L314.86,94.78 L315.04,93.18 L315.22,91.58 L315.41,89.98 L315.60,88.38 L315.79,86.77 L315.99,85.17 L316.19,83.57 L316.39,81.97 L316.60,80.36 L316.81,78.76 L317.02,77.16 L317.24,75.56 L317.47,73.96 L317.70,72.35 L317.93,70.75 L318.17,69.15 L318.42,67.55 L318.67,65.94 L318.93,64.34 L319.19,62.74 L319.46,61.14 L319.74,59.54 L320.03,57.93 L320.33,56.33 L320.64,54.73 L320.96,53.13 L321.28,51.52 L321.63,49.92 L321.98,48.32 L322.35,46.72 L322.74,45.12 L323.14,43.51 L323.57,41.91 L324.01,40.31 L324.48,38.71 L324.98,37.11 L325.10,36.76 L325.21,36.41 L325.32,36.07 L325.44,35.72 L325.56,35.38 L325.68,35.03 L325.80,34.69 L325.92,34.34 L326.05,34.00 L326.18,33.65 L326.31,33.31 L326.44,32.96 L326.57,32.62 L326.71,32.27 L326.85,31.93 L326.99,31.58 L327.13,31.24 L327.28,30.89 L327.43,30.54 L327.58,30.20 L327.73,29.85 L327.89,29.51 L328.05,29.16 L328.22,28.82 L328.39,28.47 L328.56,28.13 L328.74,27.78 L328.92,27.44 L329.10,27.09 L329.29,26.75 L329.48,26.40 L329.68,26.06 L329.89,25.71 L330.10,25.37 L330.31,25.02 L330.53,24.68 L330.76,24.33 L331.00,23.98 L331.24,23.64 L331.49,23.29 L331.75,22.95 L332.02,22.60 L332.30,22.26 L332.60,21.91 L332.90,21.57 L333.22,21.22 L333.55,20.88 L333.89,20.53 L334.26,20.19 L334.64,19.84 L335.04,19.50 L335.47,19.15 L335.92,18.81 L336.41,18.46 L336.93,18.12 L337.49,17.77 L338.10,17.42 L338.76,17.08 L339.50,16.73 L339.68,16.65 L339.87,16.57 L340.06,16.49 L340.26,16.41 L340.47,16.33 L340.68,16.25 L340.90,16.17 L341.12,16.09 L341.35,16.01 L341.59,15.92 L341.84,15.84 L342.10,15.76 L342.37,15.68 L342.64,15.60 L342.93,15.52 L343.23,15.44 L343.55,15.36 L343.88,15.28 L344.22,15.20 L344.59,15.11 L344.97,15.03 L345.38,14.95 L345.81,14.87 L346.27,14.79 L346.76,14.71 L347.28,14.63 L347.86,14.55 L348.48,14.47 L349.16,14.39" stroke="#1fcccc"/>
<path d="M309.37,179.70 L309.47,178.10 L309.58,176.50 L309.69,174.90 L309.80,173.29 L309.90,171.69 L310.01,170.09 L310.12,168.49 L310.24,166.88 L310.35,165.28 L310.46,163.68 L310.57,162.08 L310.69,160.48 L310.80,158.87 L310.92,157.27 L311.03,155.67 L311.15,154.07 L311.27,152.46 L311.39,150.86 L311.51,149.26 L311.63,147.66 L311.75,146.06 L311.88,144.45 L312.00,142.85 L312.12,141.25 L312.25,139.65 L312.38,138.04 L312.50,136.44 L312.63,134.84 L312.76,133.24 L312.90,131.64 L313.03,130.03 L313.16,128.43 L313.30,126.83 L313.43,125.23 L313.57,123.62 L313.71,122.02 L313.85,120.42 L313.99,118.82 L314.14,117.22 L314.28,115.61 L314.43,114.01 L314.58,112.41 L314.73,110.81 L314.88,109.20 L315.04,107.60 L315.19,106.00 L315.35,104.40 L315.51,102.80 L315.67,101.19 L315.84,99.59 L316.00,97.99 L316.17,96.39 L316.34,94.78 L316.52,93.18 L316.69,91.58 L316.87,89.98 L317.06,88.38 L317.24,86.77 L317.43,85.17 L317.62,83.57 L317.82,81.97 L318.02,80.36 L318.22,78.76 L318.43,77.16 L318.64,75.56 L318.85,73.96 L319.07,72.35 L319.30,70.75 L319.53,69.15 L319.76,67.55 L320.01,65.94 L320.25,64.34 L320.51,62.74 L320.77,61.14 L321.04,59.54 L321.31,57.93 L321.60,56.33 L321.90,54.73 L322.20,53.13 L322.52,51.52 L322.84,49.92 L323.18,48.32 L323.54,46.72 L323.91,45.12 L324.30,43.51 L324.70,41.91 L325.13,40.31 L325.58,38.71 L326.06,37.11 L326.16,36.76 L326.27,36.41 L326.38,36.07 L326.49,35.72 L326.61,35.38 L326.72,35.03 L326.84,34.69 L326.96,34.34 L327.08,34.00 L327.20,33.65 L327.32,33.31 L327.45,32.96 L327.58,32.62 L327.71,32.27 L327.84,31.93 L327.97,31.58 L328.11,31.24 L328.25,30.89 L328.39,30.54 L328.54,30.20 L328.69,29.85 L328.84,29.51 L328.99,29.16 L329.15,28.82 L329.31,28.47 L329.47,28.13 L329.64,27.78 L329.81,27.44 L329.99,27.09 L330.17,26.75 L330.35,26.40 L330.54,26.06 L330.74,25.71 L330.94,25.37 L331.15,25.02 L331.36,24.68 L331.58,24.33 L331.80,23.98 L332.03,23.64 L332.27,23.29 L332.52,22.95 L332.78,22.60 L333.05,22.26 L333.32,21.91 L333.61,21.57 L333.92,21.22 L334.23,20.88 L334.56,20.53 L334.91,20.19 L335.27,19.84 L335.66,19.50 L336.07,19.15 L336.50,18.81 L336.96,18.46 L337.46,18.12 L337.99,17.77 L338.57,17.42 L339.21,17.08 L339.91,16.73 L340.08,16.65 L340.26,16.57 L340.44,16.49 L340.63,16.41 L340.83,16.33 L341.03,16.25 L341.24,16.17 L341.45,16.09 L341.67,16.01 L341.90,15.92 L342.14,15.84 L342.38,15.76 L342.64,15.68 L342.90,15.60 L343.18,15.52 L343.46,15.44 L343.76,15.36 L344.08,15.28 L344.41,15.20 L344.75,15.11 L345.12,15.03 L345.51,14.95 L345.92,14.87 L346.35,14.79 L346.82,14.71 L347.32,14.63 L347.87,14.55 L348.46,14.47 L349.11,14.39" stroke="#6f4343"/>
<path d="M310.18,179.70 L310.28,178.10 L310.39,176.50 L310.49,174.90 L310.60,173.29 L310.71,171.69 L310.81,170.09 L310.92,168.49 L311.03,166.88 L311.14,165.28 L311.25,163.68 L311.37,162.08 L311.48,160.48 L311.59,158.87 L311.71,157.27 L311.82,155.67 L311.94,154.07 L312.05,152.46 L312.17,150.86 L312.29,149.26 L312.41,147.66 L312.53,146.06 L312.65,144.45 L312.77,142.85 L312.89,141.25 L313.02,139.65 L313.14,138.04 L313.27,136.44 L313.39,134.84 L313.52,133.24 L313.65,131.64 L313.78,130.03 L313.91,128.43 L314.05,126.83 L314.18,125.23 L314.32,123.62 L314.45,122.02 L314.59,120.42 L314.73,118.82 L314.87,117.22 L315.02,115.61 L315.16,114.01 L315.31,112.41 L315.46,110.81 L315.61,109.20 L315.76,107.60 L315.91,106.00 L316.07,104.40 L316.22,102.80 L316.38,101.19 L316.54,99.59 L316.71,97.99 L316.87,96.39 L317.04,94.78 L317.21,93.18 L317.39,91.58 L317.56,89.98 L317.74,88.38 L317.92,86.77 L318.11,85.17 L318.30,83.57 L318.49,81.97 L318.69,80.36 L318.88,78.76 L319.09,77.16 L319.29,75.56 L319.51,73.96 L319.72,72.35 L319.94,70.75 L320.17,69.15 L320.40,67.55 L320.64,65.94 L320.88,64.34 L321.13,62.74 L321.39,61.14 L321.65,59.54 L321.92,57.93 L322.20,56.33 L322.49,54.73 L322.79,53.13 L323.10,51.52 L323.42,49.92 L323.75,48.32 L324.10,46.72 L324.46,45.12 L324.84,43.51 L325.24,41.91 L325.66,40.31 L326.10,38.71 L326.57,37.11 L326.67,36.76 L326.78,36.41 L326.88,36.07 L326.99,35.72 L327.10,35.38 L327.22,35.03 L327.33,34.69 L327.45,34.34 L327.56,34.00 L327.68,33.65 L327.80,33.31 L327.93,32.96 L328.05,32.62 L328.18,32.27 L328.31,31.93 L328.44,31.58 L328.57,31.24 L328.71,30.89 L328.85,30.54 L328.99,30.20 L329.14,29.85 L329.29,29.51 L329.44,29.16 L329.59,28.82 L329.75,28.47 L329.91,28.13 L330.07,27.78 L330.24,27.44 L330.41,27.09 L330.59,26.75 L330.77,26.40 L330.96,26.06 L331.15,25.71 L331.34,25.37 L331.54,25.02 L331.75,24.68 L331.96,24.33 L332.18,23.98 L332.41,23.64 L332.65,23.29 L332.89,22.95 L333.14,22.60 L333.40,22.26 L333.67,21.91 L333.96,21.57 L334.25,21.22 L334.56,20.88 L334.88,20.53 L335.22,20.19 L335.58,19.84 L335.95,19.50 L336.35,19.15 L336.78,18.81 L337.23,18.46 L337.71,18.12 L338.23,17.77 L338.80,17.42 L339.42,17.08 L340.10,16.73 L340.28,16.65 L340.45,16.57 L340.63,16.49 L340.82,16.41 L341.01,16.33 L341.20,16.25 L341.41,16.17 L341.62,16.09 L341.83,16.01 L342.05,15.92 L342.29,15.84 L342.53,15.76 L342.77,15.68 L343.03,15.60 L343.30,15.52 L343.58,15.44 L343.87,15.36 L344.18,15.28 L344.50,15.20 L344.84,15.11 L345.20,15.03 L345.57,14.95 L345.98,14.87 L346.40,14.79 L346.86,14.71 L347.35,14.63 L347.88,14.55 L348.46,14.47 L349.10,14.39" stroke="#8d8c1e"/>
<path d="M310.68,179.70 L310.78,178.10 L310.89,176.50 L310.99,174.90 L311.10,173.29 L311.21,171.69 L311.31,170.09 L311.42,168.49 L311.53,166.88 L311.64,165.28 L311.75,163.68 L311.86,162.08 L311.97,160.48 L312.09,158.87 L312.20,157.27 L312.32,155.67 L312.43,154.07 L312.55,152.46 L312.66,150.86 L312.78,149.26 L312.90,147.66 L313.02,146.06 L313.14,144.45 L313.26,142.85 L313.38,141.25 L313.51,139.65 L313.63,138.04 L313.76,136.44 L313.88,134.84 L314.01,133.24 L314.14,131.64 L314.27,130.03 L314.40,128.43 L314.53,126.83 L314.67,125.23 L314.80,123.62 L314.94,122.02 L315.08,120.42 L315.21,118.82 L315.36,117.22 L315.50,115.61 L315.64,114.01 L315.79,112.41 L315.93,110.81 L316.08,109.20 L316.23,107.60 L316.39,106.00 L316.54,104.40 L316.70,102.80 L316.86,101.19 L317.02,99.59 L317.18,97.99 L317.34,96.39 L317.51,94.78 L317.68,93.18 L317.85,91.58 L318.03,89.98 L318.21,88.38 L318.39,86.77 L318.57,85.17 L318.76,83.57 L318.95,81.97 L319.15,80.36 L319.34,78.76 L319.55,77.16 L319.75,75.56 L319.96,73.96 L320.18,72.35 L320.40,70.75 L320.62,69.15 L320.85,67.55 L321.09,65.94 L321.33,64.34 L321.58,62.74 L321.83,61.14 L322.09,59.54 L322.36,57.93 L322.64,56.33 L322.93,54.73 L323.23,53.13 L323.53,51.52 L323.85,49.92 L324.18,48.32 L324.53,46.72 L324.89,45.12 L325.26,43.51 L325.66,41.91 L326.08,40.31 L326.51,38.71 L326.98,37.11 L327.08,36.76 L327.19,36.41 L327.30,36.07 L327.40,35.72 L327.51,35.38 L327.62,35.03 L327.74,34.69 L327.85,34.34 L327.97,34.00 L328.09,33.65 L328.21,33.31 L328.33,32.96 L328.46,32.62 L328.58,32.27 L328.71,31.93 L328.84,31.58 L328.97,31.24 L329.11,30.89 L329.25,30.54 L329.39,30.20 L329.53,29.85 L329.68,29.51 L329.83,29.16 L329.98,28.82 L330.14,28.47 L330.30,28.13 L330.46,27.78 L330.63,27.44 L330.80,27.09 L330.98,26.75 L331.15,26.40 L331.34,26.06 L331.53,25.71 L331.72,25.37 L331.92,25.02 L332.13,24.68 L332.34,24.33 L332.56,23.98 L332.78,23.64 L333.02,23.29 L333.26,22.95 L333.51,22.60 L333.77,22.26 L334.04,21.91 L334.32,21.57 L334.61,21.22 L334.92,20.88 L335.24,20.53 L335.58,20.19 L335.93,19.84 L336.30,19.50 L336.70,19.15 L337.12,18.81 L337.57,18.46 L338.05,18.12 L338.57,17.77 L339.13,17.42 L339.75,17.08 L340.42,16.73 L340.59,16.65 L340.77,16.57 L340.95,16.49 L341.13,16.41 L341.32,16.33 L341.52,16.25 L341.72,16.17 L341.93,16.09 L342.14,16.01 L342.36,15.92 L342.59,15.84 L342.83,15.76 L343.08,15.68 L343.33,15.60 L343.60,15.52 L343.88,15.44 L344.17,15.36 L344.47,15.28 L344.79,15.20 L345.13,15.11 L345.48,15.03 L345.86,14.95 L346.25,14.87 L346.68,14.79 L347.13,14.71 L347.62,14.63 L348.15,14.55 L348.72,14.47 L349.35,14.39" stroke="#ff6415"/>
<path d="M311.08,179.70 L311.18,178.10 L311.29,176.50 L311.39,174.90 L311.50,173.29 L311.61,171.69 L311.71,170.09 L311.82,168.49 L311.93,166.88 L312.04,165.28 L312.15,163.68 L312.26,162.08 L312.37,160.48 L312.49,158.87 L312.60,157.27 L312.71,155.67 L312.83,154.07 L312.94,152.46 L313.06,150.86 L313.18,149.26 L313.30,147.66 L313.42,146.06 L313.54,144.45 L313.66,142.85 L313.78,141.25 L313.90,139.65 L314.03,138.04 L314.15,136.44 L314.28,134.84 L314.41,133.24 L314.53,131.64 L314.66,130.03 L314.80,128.43 L314.93,126.83 L315.06,125.23 L315.20,123.62 L315.33,122.02 L315.47,120.42 L315.61,118.82 L315.75,117.22 L315.89,115.61 L316.04,114.01 L316.18,112.41 L316.33,110.81 L316.48,109.20 L316.63,107.60 L316.78,106.00 L316.93,104.40 L317.09,102.80 L317.25,101.19 L317.41,99.59 L317.57,97.99 L317.74,96.39 L317.90,94.78 L318.07,93.18 L318.25,91.58 L318.42,89.98 L318.60,88.38 L318.78,86.77 L318.96,85.17 L319.15,83.57 L319.34,81.97 L319.53,80.36 L319.73,78.76 L319.93,77.16 L320.14,75.56 L320.35,73.96 L320.56,72.35 L320.78,70.75 L321.01,69.15 L321.24,67.55 L321.47,65.94 L321.71,64.34 L321.96,62.74 L322.21,61.14 L322.48,59.54 L322.75,57.93 L323.02,56.33 L323.31,54.73 L323.61,53.13 L323.91,51.52 L324.23,49.92 L324.56,48.32 L324.91,46.72 L325.27,45.12 L325.64,43.51 L326.04,41.91 L326.45,40.31 L326.89,38.71 L327.35,37.11 L327.46,36.76 L327.56,36.41 L327.67,36.07 L327.78,35.72 L327.89,35.38 L328.00,35.03 L328.11,34.69 L328.22,34.34 L328.34,34.00 L328.46,33.65 L328.58,33.31 L328.70,32.96 L328.83,32.62 L328.95,32.27 L329.08,31.93 L329.21,31.58 L329.34,31.24 L329.48,30.89 L329.62,30.54 L329.76,30.20 L329.90,29.85 L330.05,29.51 L330.20,29.16 L330.35,28.82 L330.51,28.47 L330.67,28.13 L330.83,27.78 L330.99,27.44 L331.17,27.09 L331.34,26.75 L331.52,26.40 L331.70,26.06 L331.89,25.71 L332.09,25.37 L332.29,25.02 L332.49,24.68 L332.70,24.33 L332.92,23.98 L333.15,23.64 L333.38,23.29 L333.62,22.95 L333.87,22.60 L334.13,22.26 L334.40,21.91 L334.68,21.57 L334.97,21.22 L335.28,20.88 L335.60,20.53 L335.93,20.19 L336.28,19.84 L336.66,19.50 L337.05,19.15 L337.47,18.81 L337.92,18.46 L338.40,18.12 L338.92,17.77 L339.48,17.42 L340.09,17.08 L340.77,16.73 L340.94,16.65 L341.11,16.57 L341.29,16.49 L341.48,16.41 L341.67,16.33 L341.86,16.25 L342.06,16.17 L342.27,16.09 L342.48,16.01 L342.70,15.92 L342.93,15.84 L343.17,15.76 L343.41,15.68 L343.67,15.60 L343.94,15.52 L344.21,15.44 L344.50,15.36 L344.81,15.28 L345.13,15.20 L345.46,15.11 L345.82,15.03 L346.19,14.95 L346.59,14.87 L347.01,14.79 L347.46,14.71 L347.95,14.63 L348.48,14.55 L349.05,14.47 L349.68,14.39" stroke="#5b95cf"/>
<path d="M311.68,179.70 L311.79,178.10 L311.89,176.50 L312.00,174.90 L312.10,173.29 L312.21,171.69 L312.31,170.09 L312.42,168.49 L312.53,166.88 L312.64,165.28 L312.75,163.68 L312.86,162.08 L312.97,160.48 L313.08,158.87 L313.19,157.27 L313.30,155.67 L313.42,154.07 L313.53,152.46 L313.65,150.86 L313.76,149.26 L313.88,147.66 L314.00,146.06 L314.12,144.45 L314.24,142.85 L314.36,141.25 L314.48,139.65 L314.60,138.04 L314.73,136.44 L314.85,134.84 L314.98,133.24 L315.10,131.64 L315.23,130.03 L315.36,128.43 L315.49,126.83 L315.62,125.23 L315.76,123.62 L315.89,122.02 L316.03,120.42 L316.17,118.82 L316.30,117.22 L316.44,115.61 L316.59,114.01 L316.73,112.41 L316.88,110.81 L317.02,109.20 L317.17,107.60 L317.32,106.00 L317.47,104.40 L317.63,102.80 L317.78,101.19 L317.94,99.59 L318.10,97.99 L318.27,96.39 L318.43,94.78 L318.60,93.18 L318.77,91.58 L318.94,89.98 L319.12,88.38 L319.30,86.77 L319.48,85.17 L319.66,83.57 L319.85,81.97 L320.04,80.36 L320.24,78.76 L320.44,77.16 L320.64,75.56 L320.85,73.96 L321.06,72.35 L321.27,70.75 L321.49,69.15 L321.72,67.55 L321.95,65.94 L322.19,64.34 L322.43,62.74 L322.68,61.14 L322.94,59.54 L323.21,57.93 L323.48,56.33 L323.76,54.73 L324.06,53.13 L324.36,51.52 L324.67,49.92 L325.00,48.32 L325.34,46.72 L325.69,45.12 L326.06,43.51 L326.45,41.91 L326.86,40.31 L327.29,38.71 L327.75,37.11 L327.85,36.76 L327.95,36.41 L328.06,36.07 L328.16,35.72 L328.27,35.38 L328.38,35.03 L328.49,34.69 L328.60,34.34 L328.72,34.00 L328.83,33.65 L328.95,33.31 L329.07,32.96 L329.20,32.62 L329.32,32.27 L329.45,31.93 L329.57,31.58 L329.71,31.24 L329.84,30.89 L329.97,30.54 L330.11,30.20 L330.25,29.85 L330.40,29.51 L330.55,29.16 L330.70,28.82 L330.85,28.47 L331.01,28.13 L331.17,27.78 L331.33,27.44 L331.50,27.09 L331.67,26.75 L331.85,26.40 L332.03,26.06 L332.21,25.71 L332.40,25.37 L332.60,25.02 L332.80,24.68 L333.01,24.33 L333.22,23.98 L333.45,23.64 L333.68,23.29 L333.91,22.95 L334.16,22.60 L334.41,22.26 L334.68,21.91 L334.95,21.57 L335.24,21.22 L335.54,20.88 L335.86,20.53 L336.19,20.19 L336.53,19.84 L336.90,19.50 L337.29,19.15 L337.70,18.81 L338.14,18.46 L338.61,18.12 L339.12,17.77 L339.67,17.42 L340.28,17.08 L340.94,16.73 L341.11,16.65 L341.28,16.57 L341.46,16.49 L341.64,16.41 L341.82,16.33 L342.01,16.25 L342.21,16.17 L342.42,16.09 L342.63,16.01 L342.84,15.92 L343.07,15.84 L343.30,15.76 L343.54,15.68 L343.79,15.60 L344.06,15.52 L344.33,15.44 L344.61,15.36 L344.91,15.28 L345.23,15.20 L345.56,15.11 L345.90,15.03 L346.27,14.95 L346.66,14.87 L347.08,14.79 L347.52,14.71 L348.00,14.63 L348.52,14.55 L349.08,14.47 L349.70,14.39" stroke="#62bf1c"/>
</g>
<text x="235.7" y="205.9" text-anchor="middle" class="t11">E(V vs RHE)</text>
<text transform="translate(109.2,89.2) rotate(-90)" text-anchor="middle" class="t115">j(mA cm<tspan font-size="8" dy="-5.2">-2</tspan><tspan dy="5.2">)</tspan></text>
<line x1="63.40" y1="315.51" x2="63.40" y2="567.30" stroke="#222" stroke-width="1.1"/>
<line x1="63.40" y1="567.30" x2="338.60" y2="567.30" stroke="#222" stroke-width="1.1"/>
<line x1="54.40" y1="567.30" x2="63.40" y2="567.30" stroke="#262626" stroke-width="1.2"/>
<line x1="59.00" y1="562.72" x2="63.40" y2="562.72" stroke="#262626" stroke-width="1.2"/>
<line x1="59.00" y1="558.14" x2="63.40" y2="558.14" stroke="#262626" stroke-width="1.2"/>
<line x1="59.00" y1="553.57" x2="63.40" y2="553.57" stroke="#262626" stroke-width="1.2"/>
<line x1="59.00" y1="548.99" x2="63.40" y2="548.99" stroke="#262626" stroke-width="1.2"/>
<line x1="54.40" y1="544.41" x2="63.40" y2="544.41" stroke="#262626" stroke-width="1.2"/>
<line x1="59.00" y1="539.83" x2="63.40" y2="539.83" stroke="#262626" stroke-width="1.2"/>
<line x1="59.00" y1="535.25" x2="63.40" y2="535.25" stroke="#262626" stroke-width="1.2"/>
<line x1="59.00" y1="530.68" x2="63.40" y2="530.68" stroke="#262626" stroke-width="1.2"/>
<line x1="59.00" y1="526.10" x2="63.40" y2="526.10" stroke="#262626" stroke-width="1.2"/>
<line x1="54.40" y1="521.52" x2="63.40" y2="521.52" stroke="#262626" stroke-width="1.2"/>
<line x1="59.00" y1="516.94" x2="63.40" y2="516.94" stroke="#262626" stroke-width="1.2"/>
<line x1="59.00" y1="512.36" x2="63.40" y2="512.36" stroke="#262626" stroke-width="1.2"/>
<line x1="59.00" y1="507.79" x2="63.40" y2="507.79" stroke="#262626" stroke-width="1.2"/>
<line x1="59.00" y1="503.21" x2="63.40" y2="503.21" stroke="#262626" stroke-width="1.2"/>
<line x1="54.40" y1="498.63" x2="63.40" y2="498.63" stroke="#262626" stroke-width="1.2"/>
<line x1="59.00" y1="494.05" x2="63.40" y2="494.05" stroke="#262626" stroke-width="1.2"/>
<line x1="59.00" y1="489.47" x2="63.40" y2="489.47" stroke="#262626" stroke-width="1.2"/>
<line x1="59.00" y1="484.90" x2="63.40" y2="484.90" stroke="#262626" stroke-width="1.2"/>
<line x1="59.00" y1="480.32" x2="63.40" y2="480.32" stroke="#262626" stroke-width="1.2"/>
<line x1="54.40" y1="475.74" x2="63.40" y2="475.74" stroke="#262626" stroke-width="1.2"/>
<line x1="59.00" y1="471.16" x2="63.40" y2="471.16" stroke="#262626" stroke-width="1.2"/>
<line x1="59.00" y1="466.58" x2="63.40" y2="466.58" stroke="#262626" stroke-width="1.2"/>
<line x1="59.00" y1="462.01" x2="63.40" y2="462.01" stroke="#262626" stroke-width="1.2"/>
<line x1="59.00" y1="457.43" x2="63.40" y2="457.43" stroke="#262626" stroke-width="1.2"/>
<line x1="54.40" y1="452.85" x2="63.40" y2="452.85" stroke="#262626" stroke-width="1.2"/>
<line x1="59.00" y1="448.27" x2="63.40" y2="448.27" stroke="#262626" stroke-width="1.2"/>
<line x1="59.00" y1="443.69" x2="63.40" y2="443.69" stroke="#262626" stroke-width="1.2"/>
<line x1="59.00" y1="439.12" x2="63.40" y2="439.12" stroke="#262626" stroke-width="1.2"/>
<line x1="59.00" y1="434.54" x2="63.40" y2="434.54" stroke="#262626" stroke-width="1.2"/>
<line x1="54.40" y1="429.96" x2="63.40" y2="429.96" stroke="#262626" stroke-width="1.2"/>
<line x1="59.00" y1="425.38" x2="63.40" y2="425.38" stroke="#262626" stroke-width="1.2"/>
<line x1="59.00" y1="420.80" x2="63.40" y2="420.80" stroke="#262626" stroke-width="1.2"/>
<line x1="59.00" y1="416.23" x2="63.40" y2="416.23" stroke="#262626" stroke-width="1.2"/>
<line x1="59.00" y1="411.65" x2="63.40" y2="411.65" stroke="#262626" stroke-width="1.2"/>
<line x1="54.40" y1="407.07" x2="63.40" y2="407.07" stroke="#262626" stroke-width="1.2"/>
<line x1="59.00" y1="402.49" x2="63.40" y2="402.49" stroke="#262626" stroke-width="1.2"/>
<line x1="59.00" y1="397.91" x2="63.40" y2="397.91" stroke="#262626" stroke-width="1.2"/>
<line x1="59.00" y1="393.34" x2="63.40" y2="393.34" stroke="#262626" stroke-width="1.2"/>
<line x1="59.00" y1="388.76" x2="63.40" y2="388.76" stroke="#262626" stroke-width="1.2"/>
<line x1="54.40" y1="384.18" x2="63.40" y2="384.18" stroke="#262626" stroke-width="1.2"/>
<line x1="59.00" y1="379.60" x2="63.40" y2="379.60" stroke="#262626" stroke-width="1.2"/>
<line x1="59.00" y1="375.02" x2="63.40" y2="375.02" stroke="#262626" stroke-width="1.2"/>
<line x1="59.00" y1="370.45" x2="63.40" y2="370.45" stroke="#262626" stroke-width="1.2"/>
<line x1="59.00" y1="365.87" x2="63.40" y2="365.87" stroke="#262626" stroke-width="1.2"/>
<line x1="54.40" y1="361.29" x2="63.40" y2="361.29" stroke="#262626" stroke-width="1.2"/>
<line x1="59.00" y1="356.71" x2="63.40" y2="356.71" stroke="#262626" stroke-width="1.2"/>
<line x1="59.00" y1="352.13" x2="63.40" y2="352.13" stroke="#262626" stroke-width="1.2"/>
<line x1="59.00" y1="347.56" x2="63.40" y2="347.56" stroke="#262626" stroke-width="1.2"/>
<line x1="59.00" y1="342.98" x2="63.40" y2="342.98" stroke="#262626" stroke-width="1.2"/>
<line x1="54.40" y1="338.40" x2="63.40" y2="338.40" stroke="#262626" stroke-width="1.2"/>
<line x1="59.00" y1="333.82" x2="63.40" y2="333.82" stroke="#262626" stroke-width="1.2"/>
<line x1="59.00" y1="329.24" x2="63.40" y2="329.24" stroke="#262626" stroke-width="1.2"/>
<line x1="59.00" y1="324.67" x2="63.40" y2="324.67" stroke="#262626" stroke-width="1.2"/>
<line x1="59.00" y1="320.09" x2="63.40" y2="320.09" stroke="#262626" stroke-width="1.2"/>
<line x1="63.40" y1="567.30" x2="63.40" y2="576.50" stroke="#262626" stroke-width="1.2"/>
<line x1="74.41" y1="567.30" x2="74.41" y2="572.00" stroke="#262626" stroke-width="1.2"/>
<line x1="85.42" y1="567.30" x2="85.42" y2="572.00" stroke="#262626" stroke-width="1.2"/>
<line x1="96.42" y1="567.30" x2="96.42" y2="572.00" stroke="#262626" stroke-width="1.2"/>
<line x1="107.43" y1="567.30" x2="107.43" y2="572.00" stroke="#262626" stroke-width="1.2"/>
<line x1="118.44" y1="567.30" x2="118.44" y2="576.50" stroke="#262626" stroke-width="1.2"/>
<line x1="129.45" y1="567.30" x2="129.45" y2="572.00" stroke="#262626" stroke-width="1.2"/>
<line x1="140.46" y1="567.30" x2="140.46" y2="572.00" stroke="#262626" stroke-width="1.2"/>
<line x1="151.46" y1="567.30" x2="151.46" y2="572.00" stroke="#262626" stroke-width="1.2"/>
<line x1="162.47" y1="567.30" x2="162.47" y2="572.00" stroke="#262626" stroke-width="1.2"/>
<line x1="173.48" y1="567.30" x2="173.48" y2="576.50" stroke="#262626" stroke-width="1.2"/>
<line x1="184.49" y1="567.30" x2="184.49" y2="572.00" stroke="#262626" stroke-width="1.2"/>
<line x1="195.50" y1="567.30" x2="195.50" y2="572.00" stroke="#262626" stroke-width="1.2"/>
<line x1="206.50" y1="567.30" x2="206.50" y2="572.00" stroke="#262626" stroke-width="1.2"/>
<line x1="217.51" y1="567.30" x2="217.51" y2="572.00" stroke="#262626" stroke-width="1.2"/>
<line x1="228.52" y1="567.30" x2="228.52" y2="576.50" stroke="#262626" stroke-width="1.2"/>
<line x1="239.53" y1="567.30" x2="239.53" y2="572.00" stroke="#262626" stroke-width="1.2"/>
<line x1="250.54" y1="567.30" x2="250.54" y2="572.00" stroke="#262626" stroke-width="1.2"/>
<line x1="261.54" y1="567.30" x2="261.54" y2="572.00" stroke="#262626" stroke-width="1.2"/>
<line x1="272.55" y1="567.30" x2="272.55" y2="572.00" stroke="#262626" stroke-width="1.2"/>
<line x1="283.56" y1="567.30" x2="283.56" y2="576.50" stroke="#262626" stroke-width="1.2"/>
<line x1="294.57" y1="567.30" x2="294.57" y2="572.00" stroke="#262626" stroke-width="1.2"/>
<line x1="305.58" y1="567.30" x2="305.58" y2="572.00" stroke="#262626" stroke-width="1.2"/>
<line x1="316.58" y1="567.30" x2="316.58" y2="572.00" stroke="#262626" stroke-width="1.2"/>
<line x1="327.59" y1="567.30" x2="327.59" y2="572.00" stroke="#262626" stroke-width="1.2"/>
<line x1="54.40" y1="315.51" x2="339.10" y2="315.51" stroke="#3c3c3c" stroke-width="1.3"/>
<line x1="338.60" y1="315.51" x2="338.60" y2="576.50" stroke="#3c3c3c" stroke-width="1.3"/>
<text x="47.2" y="571.10" text-anchor="end" class="t12">0.0</text>
<text x="47.2" y="548.21" text-anchor="end" class="t12">0.1</text>
<text x="47.2" y="525.32" text-anchor="end" class="t12">0.2</text>
<text x="47.2" y="502.43" text-anchor="end" class="t12">0.3</text>
<text x="47.2" y="479.54" text-anchor="end" class="t12">0.4</text>
<text x="47.2" y="456.65" text-anchor="end" class="t12">0.5</text>
<text x="47.2" y="433.76" text-anchor="end" class="t12">0.6</text>
<text x="47.2" y="410.87" text-anchor="end" class="t12">0.7</text>
<text x="47.2" y="387.98" text-anchor="end" class="t12">0.8</text>
<text x="47.2" y="365.09" text-anchor="end" class="t12">0.9</text>
<text x="47.2" y="342.20" text-anchor="end" class="t12">1.0</text>
<text x="47.2" y="319.31" text-anchor="end" class="t12">1.1</text>
<text x="63.40" y="593.6" text-anchor="middle" class="t12">0</text>
<text x="118.44" y="593.6" text-anchor="middle" class="t12">100</text>
<text x="173.48" y="593.6" text-anchor="middle" class="t12">200</text>
<text x="228.52" y="593.6" text-anchor="middle" class="t12">300</text>
<text x="283.56" y="593.6" text-anchor="middle" class="t12">400</text>
<text x="338.60" y="593.6" text-anchor="middle" class="t12">500</text>
<text x="207" y="610.9" text-anchor="middle" class="t14" textLength="122" lengthAdjust="spacingAndGlyphs">Number of cycles</text>
<text transform="translate(15.7,496.80) rotate(-90)" font-size="17" class="yl" style="font-weight:bold">|</text>
<text transform="translate(15.4,492.00) rotate(-90) scale(1.24,1)" font-size="14.5" class="yl" style="font-weight:normal">η</text>
<text transform="translate(19.6,482.00) rotate(-90)" font-size="12" class="yl" style="font-weight:bold">@-10mA/cm</text>
<text transform="translate(15.2,412.50) rotate(-90)" font-size="6.2" class="yl" style="font-weight:bold">2</text>
<text transform="translate(15.7,408.00) rotate(-90)" font-size="17" class="yl" style="font-weight:bold">|</text>
<text x="3.2" y="322.7" class="lab">b</text>
<g clip-path="url(#cb)">
<circle cx="63.95" cy="329.24" r="5.35" fill="url(#sb)"/>
<circle cx="66.15" cy="360.15" r="5.35" fill="url(#sb)"/>
<circle cx="90.92" cy="420.35" r="5.35" fill="url(#sb)"/>
<circle cx="118.44" cy="436.37" r="5.35" fill="url(#sb)"/>
<circle cx="145.96" cy="443.24" r="5.35" fill="url(#sb)"/>
<circle cx="173.48" cy="447.13" r="5.35" fill="url(#sb)"/>
<circle cx="201.00" cy="449.19" r="5.35" fill="url(#sb)"/>
<circle cx="228.52" cy="452.05" r="5.35" fill="url(#sb)"/>
<circle cx="256.04" cy="452.39" r="5.35" fill="url(#sb)"/>
<circle cx="283.56" cy="453.31" r="5.35" fill="url(#sb)"/>
<circle cx="311.08" cy="453.99" r="5.35" fill="url(#sb)"/>
<circle cx="338.60" cy="454.77" r="5.35" fill="url(#sb)"/>
<circle cx="63.95" cy="315.51" r="5.35" fill="url(#sr)"/>
<circle cx="66.15" cy="352.13" r="5.35" fill="url(#sr)"/>
<circle cx="90.92" cy="377.08" r="5.35" fill="url(#sr)"/>
<circle cx="118.44" cy="385.55" r="5.35" fill="url(#sr)"/>
<circle cx="145.96" cy="388.30" r="5.35" fill="url(#sr)"/>
<circle cx="173.48" cy="395.17" r="5.35" fill="url(#sr)"/>
<circle cx="201.00" cy="402.49" r="5.35" fill="url(#sr)"/>
<circle cx="228.52" cy="407.53" r="5.35" fill="url(#sr)"/>
<circle cx="256.04" cy="410.50" r="5.35" fill="url(#sr)"/>
<circle cx="283.56" cy="412.56" r="5.35" fill="url(#sr)"/>
<circle cx="311.08" cy="414.62" r="5.35" fill="url(#sr)"/>
<circle cx="338.60" cy="415.54" r="5.35" fill="url(#sr)"/>
</g>
<circle cx="251.4" cy="332.3" r="5.35" fill="url(#sb)"/>
<circle cx="251.4" cy="346.0" r="5.35" fill="url(#sr)"/>
<text x="267.4" y="336.4" class="t95" style="fill:#1010f0" textLength="59.4" lengthAdjust="spacingAndGlyphs">PANI-R0.50</text>
<text x="267.4" y="350.0" class="t95" style="fill:#f21010" textLength="59.4" lengthAdjust="spacingAndGlyphs">PANI-R1.00</text>
</svg>
</body></html>
